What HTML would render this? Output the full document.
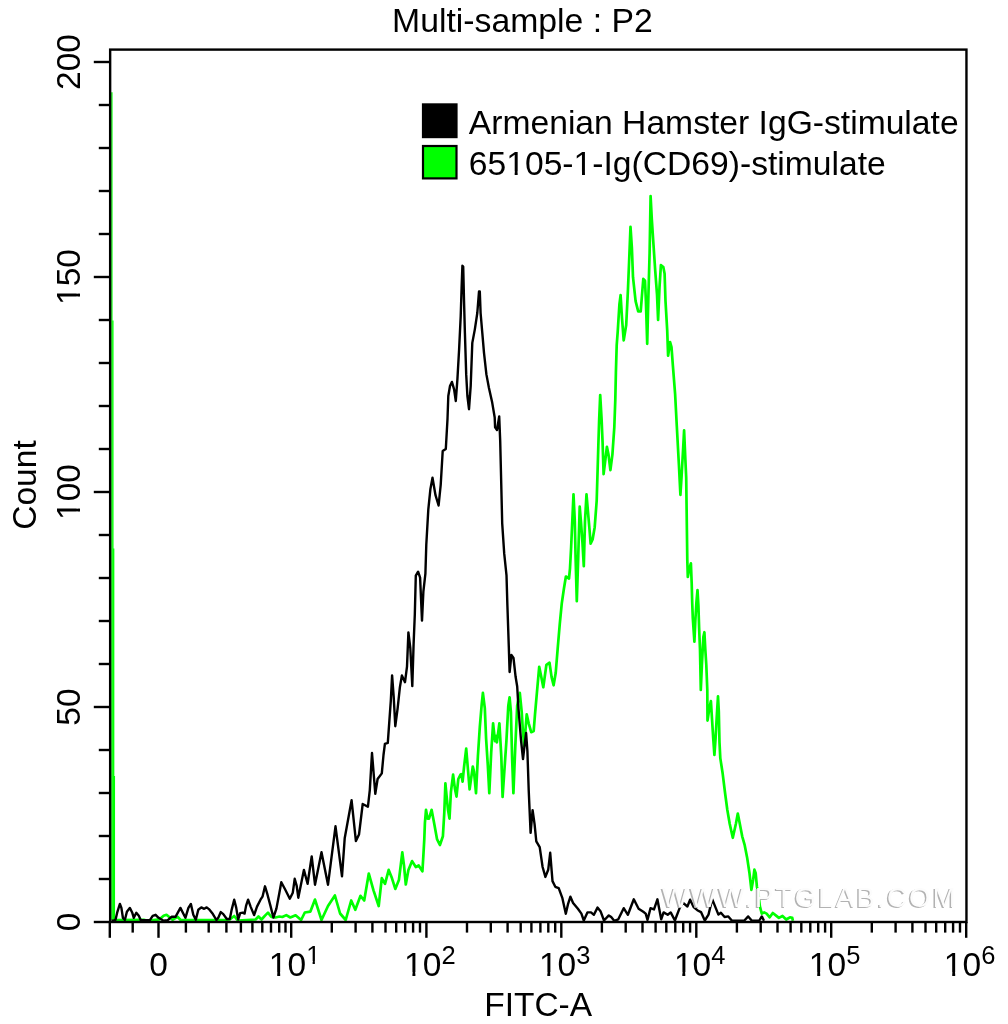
<!DOCTYPE html>
<html><head><meta charset="utf-8"><title>Multi-sample : P2</title>
<style>html,body{margin:0;padding:0;background:#fff;width:1008px;height:1024px;overflow:hidden}svg{display:block}</style>
</head><body>
<svg width="1008" height="1024" viewBox="0 0 1008 1024"><rect width="1008" height="1024" fill="#fff"/><g stroke="#00ff00" stroke-width="1.3" fill="none"><line x1="111.9" y1="92.3" x2="111.9" y2="920"/><line x1="112.9" y1="320.5" x2="112.9" y2="920"/><line x1="113.7" y1="548.5" x2="113.7" y2="920"/><line x1="114.4" y1="776" x2="114.4" y2="920"/></g><polyline points="114.0,920.0 143.7,919.8 147.7,920.8 159.6,919.3 163.6,915.8 166.5,914.8 169.5,917.3 172.5,919.8 177.5,916.8 180.4,919.8 224.8,920.0 229.8,919.5 234.2,916.0 237.7,920.5 255.6,919.5 258.5,916.5 261.5,919.5 265.0,915.6 268.0,912.6 271.4,917.0 275.4,917.5 279.4,916.5 282.3,917.0 286.3,915.1 290.3,917.5 295.6,915.3 301.1,920.0 304.8,912.5 310.4,911.6 315.0,899.6 321.5,920.0 328.0,906.0 334.9,895.5 340.1,913.5 345.7,920.0 351.2,900.5 355.3,909.8 360.5,895.8 364.2,900.5 368.8,873.6 373.5,890.3 378.7,906.0 381.8,878.2 385.0,883.8 388.7,869.9 391.6,877.2 395.3,888.9 398.9,880.1 402.3,852.3 404.0,865.5 405.8,884.5 408.4,869.9 412.1,861.1 415.8,867.0 418.7,865.5 422.4,871.4 423.4,855.2 424.3,839.1 424.9,823.0 426.0,809.8 427.5,818.6 429.0,818.6 431.6,809.8 434.1,823.0 437.0,839.1 439.9,845.0 442.9,836.2 444.3,812.7 445.4,783.4 446.5,795.2 448.0,809.8 449.5,818.6 450.9,792.2 453.1,774.7 455.0,789.3 456.5,796.6 458.3,779.0 460.5,774.7 461.3,774.1 462.6,781.7 464.1,766.5 466.2,748.7 467.7,766.5 469.6,789.4 472.8,766.5 474.0,771.6 476.0,793.2 477.9,756.3 479.8,727.1 481.7,704.3 482.9,692.9 484.8,708.1 486.1,738.6 487.8,765.2 489.3,793.2 491.2,752.5 493.1,723.3 495.0,741.1 496.3,736.0 496.9,742.4 499.4,723.3 501.3,756.3 502.6,797.0 504.5,769.0 506.4,741.1 508.3,705.6 509.6,697.3 510.9,711.9 512.1,757.6 513.4,793.2 515.3,746.2 517.2,705.6 519.8,692.9 521.7,711.9 522.9,731.0 524.2,746.2 526.7,714.4 528.7,723.3 531.2,732.2 533.7,731.0 535.0,714.4 537.2,689.4 539.2,666.8 541.3,677.1 543.3,687.3 546.4,664.8 549.5,662.7 551.6,677.1 553.6,685.3 555.7,673.0 557.7,648.3 559.8,623.7 561.8,603.2 563.9,588.8 565.9,576.5 569.0,578.5 570.0,568.3 571.1,547.7 572.1,525.2 573.5,494.4 574.8,521.1 575.6,558.0 576.8,601.1 578.2,558.0 579.7,506.7 580.9,521.1 582.4,541.6 583.8,566.2 585.0,521.1 586.5,494.4 587.9,510.8 589.5,529.3 590.6,543.6 592.6,539.5 594.7,527.2 596.7,500.5 598.3,446.8 599.1,421.4 600.2,395.0 601.6,419.4 602.6,442.9 603.6,474.2 605.5,458.5 606.9,446.8 608.5,454.6 610.4,470.2 612.4,454.6 614.3,427.3 615.3,399.9 615.9,372.5 616.7,345.2 617.7,331.8 619.4,304.5 620.6,295.1 622.0,318.2 623.7,340.4 626.2,325.0 627.9,290.9 629.1,261.8 630.5,226.8 631.9,248.2 633.0,277.2 635.6,301.1 638.2,311.3 640.7,311.3 643.3,278.9 645.0,280.6 645.9,301.1 647.2,343.8 648.4,296.0 649.6,253.3 650.6,196.1 651.8,219.1 653.5,244.8 655.2,270.4 657.0,294.3 658.1,319.9 659.5,287.4 660.9,265.2 663.3,267.0 664.6,273.8 665.5,301.1 667.2,330.1 668.1,355.7 670.1,342.1 671.5,347.2 672.9,365.8 675.1,393.8 676.8,426.0 678.9,464.7 680.4,494.8 681.5,477.6 683.2,447.5 684.1,430.3 685.4,460.4 686.2,477.6 686.9,530.0 687.3,560.0 687.8,577.0 689.1,569.7 690.9,563.4 691.7,583.8 692.2,602.5 692.8,618.1 694.4,641.6 695.3,621.3 696.4,602.5 697.5,590.0 698.4,605.6 699.1,627.5 700.0,649.4 700.8,690.0 701.9,665.0 702.7,649.4 703.4,636.9 704.4,632.2 705.3,649.4 706.3,665.0 707.3,690.0 707.5,720.6 709.4,708.1 710.9,701.1 712.2,722.2 713.3,739.4 714.4,755.0 715.6,737.8 716.9,714.4 718.0,696.4 718.8,711.3 719.5,742.5 720.3,758.1 722.7,773.8 725.0,792.5 727.3,809.7 729.7,823.8 732.8,837.8 735.9,823.8 737.8,813.6 739.8,823.8 742.2,836.3 744.7,845.2 747.1,857.4 749.5,873.3 751.4,889.8 753.2,879.4 754.4,869.6 755.7,873.3 756.9,886.7 758.1,891.6 759.9,906.3 761.8,913.6 764.2,912.4 766.6,913.6 769.7,917.3 772.8,913.0 775.8,915.4 778.9,917.9 782.5,916.0 786.2,919.5 789.9,917.3 792.3,917.9 792.9,920.8" fill="none" stroke="#00ff00" stroke-width="2.7" stroke-linejoin="round"/><polyline points="111.5,920.8 113.0,920.8 115.5,919.8 117.4,911.8 119.9,903.9 121.4,907.9 122.9,917.8 124.9,919.8 126.9,911.8 129.8,907.9 132.3,912.8 133.8,917.8 136.3,912.8 138.8,915.8 140.8,920.3 149.7,920.3 152.7,915.8 155.6,914.8 158.6,917.8 163.6,920.8 167.5,920.3 171.5,916.8 175.5,916.8 180.4,907.9 185.4,917.8 188.4,907.9 190.9,903.9 193.3,914.8 195.8,919.8 198.3,909.8 201.3,907.4 204.2,908.8 206.7,907.4 208.9,909.1 212.9,914.1 216.4,920.0 218.4,917.5 220.8,912.1 223.3,914.1 226.8,919.0 229.8,919.0 231.7,909.6 234.2,899.7 236.2,907.6 238.2,919.5 240.2,913.1 242.7,912.6 244.6,913.6 246.1,905.6 248.1,899.7 250.6,906.6 254.1,915.1 257.0,906.6 260.5,899.7 262.5,896.7 265.0,886.3 267.5,894.7 270.4,905.6 273.4,917.5 276.4,908.6 279.4,892.7 281.3,882.3 285.3,889.8 289.8,898.7 292.8,892.7 294.7,878.8 296.7,885.8 298.3,897.7 303.9,869.9 307.6,883.8 311.7,856.5 315.0,884.7 321.5,852.2 328.0,884.7 335.5,826.3 342.0,876.4 344.7,838.3 351.6,800.3 355.9,841.1 359.0,834.6 362.7,804.0 367.9,806.8 369.8,790.1 372.0,753.0 375.3,793.8 377.6,779.0 381.8,773.4 383.5,755.0 384.9,743.8 387.8,742.8 389.4,720.3 390.8,700.8 392.1,675.4 393.7,696.9 395.3,726.2 397.6,708.6 399.9,687.1 401.9,675.4 405.0,682.2 407.0,666.6 408.4,632.4 410.3,648.0 412.3,686.1 413.6,644.1 414.8,614.8 415.8,575.6 418.1,571.7 420.1,577.6 422.0,620.6 423.4,591.3 425.4,573.7 426.3,544.5 428.3,509.6 430.4,489.1 432.5,477.8 435.5,495.2 438.6,505.5 440.7,485.0 442.7,451.1 445.8,449.0 447.5,419.0 448.3,396.0 450.0,386.0 451.9,381.9 454.1,389.3 455.8,401.0 457.4,379.4 459.1,349.5 460.7,316.3 461.6,288.1 462.4,265.8 463.2,266.6 464.0,299.8 464.9,332.9 466.2,374.4 467.4,396.0 469.0,409.2 470.7,386.0 472.3,342.9 474.8,329.6 477.3,313.0 479.0,291.5 479.8,291.5 480.6,313.0 482.3,332.9 484.0,352.8 486.4,374.4 488.9,387.7 492.2,402.6 494.7,417.5 495.1,427.4 497.0,430.1 499.2,416.4 500.2,441.1 501.2,482.2 502.2,523.3 504.2,553.4 506.5,575.3 507.4,605.5 508.8,646.6 509.6,672.0 511.4,655.0 513.5,658.0 515.6,676.8 517.2,686.5 518.5,709.0 521.0,740.0 523.0,759.0 524.5,746.0 526.1,733.0 527.4,751.0 528.7,790.0 530.6,832.9 532.6,810.2 534.6,824.4 536.3,841.4 539.7,847.1 542.6,867.0 545.4,876.9 548.2,869.8 550.2,852.8 552.5,881.1 555.3,886.8 558.7,888.2 562.4,898.2 565.8,913.8 568.1,903.8 570.4,896.7 573.1,902.9 577.9,908.8 581.4,913.6 583.8,920.5 587.4,912.4 591.0,912.4 593.9,914.8 597.5,907.6 600.5,911.2 604.0,920.5 608.8,915.4 611.2,917.1 614.2,920.8 618.3,919.3 623.7,908.2 627.9,914.8 633.8,899.3 638.6,908.8 643.3,911.8 645.7,913.6 647.5,919.9 650.5,908.2 654.0,909.4 657.4,899.3 661.2,919.3 663.6,912.4 667.7,914.8 670.7,912.4 674.9,920.5 680.0,907.1 683.1,902.8 687.4,906.5 690.1,899.7 693.6,907.1 697.3,910.2 701.0,912.1 704.8,920.5 708.5,914.6 712.2,899.1 715.9,908.4 718.4,914.6 720.9,912.7 724.6,917.0 728.3,916.4 732.0,920.8 739.5,920.8 744.4,920.5 748.2,916.4 751.9,920.8 759.3,920.5 761.8,916.4 764.0,920.8" fill="none" stroke="#000" stroke-width="2.4" stroke-linejoin="round"/><text x="660.6" y="908.0" font-family="Liberation Sans, Arial, sans-serif" font-size="27.5" letter-spacing="2.25" fill="#b2b2b2">WWW.PTGLAB.COM</text><text x="662.0" y="907.3" font-family="Liberation Sans, Arial, sans-serif" font-size="27.5" letter-spacing="2.25" fill="#fcfcfc">WWW.PTGLAB.COM</text><rect x="110.15" y="49.6" width="856.3" height="872.4" fill="none" stroke="#000" stroke-width="2.4"/><g stroke="#000" stroke-width="2.4"><line x1="93.8" y1="922.0" x2="110.15" y2="922.0"/><line x1="98.8" y1="879.0" x2="110.15" y2="879.0"/><line x1="98.8" y1="836.0" x2="110.15" y2="836.0"/><line x1="98.8" y1="793.0" x2="110.15" y2="793.0"/><line x1="98.8" y1="750.0" x2="110.15" y2="750.0"/><line x1="93.8" y1="707.0" x2="110.15" y2="707.0"/><line x1="98.8" y1="664.0" x2="110.15" y2="664.0"/><line x1="98.8" y1="621.0" x2="110.15" y2="621.0"/><line x1="98.8" y1="578.0" x2="110.15" y2="578.0"/><line x1="98.8" y1="535.0" x2="110.15" y2="535.0"/><line x1="93.8" y1="492.0" x2="110.15" y2="492.0"/><line x1="98.8" y1="449.0" x2="110.15" y2="449.0"/><line x1="98.8" y1="406.0" x2="110.15" y2="406.0"/><line x1="98.8" y1="363.0" x2="110.15" y2="363.0"/><line x1="98.8" y1="320.0" x2="110.15" y2="320.0"/><line x1="93.8" y1="277.0" x2="110.15" y2="277.0"/><line x1="98.8" y1="234.0" x2="110.15" y2="234.0"/><line x1="98.8" y1="191.0" x2="110.15" y2="191.0"/><line x1="98.8" y1="148.0" x2="110.15" y2="148.0"/><line x1="98.8" y1="105.0" x2="110.15" y2="105.0"/><line x1="93.8" y1="62.0" x2="110.15" y2="62.0"/><line x1="109.8" y1="921.95" x2="109.8" y2="937.8"/><line x1="158.5" y1="921.95" x2="158.5" y2="937.8"/><line x1="291.2" y1="921.95" x2="291.2" y2="937.8"/><line x1="426.4" y1="921.95" x2="426.4" y2="937.8"/><line x1="561.3" y1="921.95" x2="561.3" y2="937.8"/><line x1="696.3" y1="921.95" x2="696.3" y2="937.8"/><line x1="831.2" y1="921.95" x2="831.2" y2="937.8"/><line x1="966.2" y1="921.95" x2="966.2" y2="937.8"/><line x1="132.7" y1="921.95" x2="132.7" y2="932.6"/><line x1="185.9" y1="921.95" x2="185.9" y2="932.6"/><line x1="208.7" y1="921.95" x2="208.7" y2="932.6"/><line x1="226.4" y1="921.95" x2="226.4" y2="932.6"/><line x1="240.9" y1="921.95" x2="240.9" y2="932.6"/><line x1="252.4" y1="921.95" x2="252.4" y2="932.6"/><line x1="262.3" y1="921.95" x2="262.3" y2="932.6"/><line x1="271.0" y1="921.95" x2="271.0" y2="932.6"/><line x1="279.2" y1="921.95" x2="279.2" y2="932.6"/><line x1="285.5" y1="921.95" x2="285.5" y2="932.6"/><line x1="331.8" y1="921.95" x2="331.8" y2="932.6"/><line x1="355.6" y1="921.95" x2="355.6" y2="932.6"/><line x1="372.4" y1="921.95" x2="372.4" y2="932.6"/><line x1="385.5" y1="921.95" x2="385.5" y2="932.6"/><line x1="396.2" y1="921.95" x2="396.2" y2="932.6"/><line x1="405.2" y1="921.95" x2="405.2" y2="932.6"/><line x1="413.1" y1="921.95" x2="413.1" y2="932.6"/><line x1="420.0" y1="921.95" x2="420.0" y2="932.6"/><line x1="467.0" y1="921.95" x2="467.0" y2="932.6"/><line x1="490.8" y1="921.95" x2="490.8" y2="932.6"/><line x1="507.6" y1="921.95" x2="507.6" y2="932.6"/><line x1="520.7" y1="921.95" x2="520.7" y2="932.6"/><line x1="531.4" y1="921.95" x2="531.4" y2="932.6"/><line x1="540.4" y1="921.95" x2="540.4" y2="932.6"/><line x1="548.3" y1="921.95" x2="548.3" y2="932.6"/><line x1="555.2" y1="921.95" x2="555.2" y2="932.6"/><line x1="601.9" y1="921.95" x2="601.9" y2="932.6"/><line x1="625.7" y1="921.95" x2="625.7" y2="932.6"/><line x1="642.5" y1="921.95" x2="642.5" y2="932.6"/><line x1="655.6" y1="921.95" x2="655.6" y2="932.6"/><line x1="666.3" y1="921.95" x2="666.3" y2="932.6"/><line x1="675.3" y1="921.95" x2="675.3" y2="932.6"/><line x1="683.2" y1="921.95" x2="683.2" y2="932.6"/><line x1="690.1" y1="921.95" x2="690.1" y2="932.6"/><line x1="736.9" y1="921.95" x2="736.9" y2="932.6"/><line x1="760.7" y1="921.95" x2="760.7" y2="932.6"/><line x1="777.5" y1="921.95" x2="777.5" y2="932.6"/><line x1="790.6" y1="921.95" x2="790.6" y2="932.6"/><line x1="801.3" y1="921.95" x2="801.3" y2="932.6"/><line x1="810.3" y1="921.95" x2="810.3" y2="932.6"/><line x1="818.2" y1="921.95" x2="818.2" y2="932.6"/><line x1="825.1" y1="921.95" x2="825.1" y2="932.6"/><line x1="871.8" y1="921.95" x2="871.8" y2="932.6"/><line x1="895.6" y1="921.95" x2="895.6" y2="932.6"/><line x1="912.4" y1="921.95" x2="912.4" y2="932.6"/><line x1="925.5" y1="921.95" x2="925.5" y2="932.6"/><line x1="936.2" y1="921.95" x2="936.2" y2="932.6"/><line x1="945.2" y1="921.95" x2="945.2" y2="932.6"/><line x1="953.1" y1="921.95" x2="953.1" y2="932.6"/><line x1="960.0" y1="921.95" x2="960.0" y2="932.6"/></g><rect x="421.9" y="103.3" width="35.7" height="34.9" fill="#000"/><rect x="423.0" y="146.0" width="33.5" height="32.4" fill="#00ff00" stroke="#000" stroke-width="2.2"/><g font-family="Liberation Sans, Arial, sans-serif" fill="#000"><text id="t0" font-size="33.75" x="392.1" y="32.2">Multi-sample : P2</text><text id="t1" font-size="33.65" x="468.8" y="133.7">Armenian Hamster IgG-stimulate</text><text id="t2" font-size="33.65" x="468.8" y="174.8">65105-1-Ig(CD69)-stimulate</text><g fill="#fff"><rect x="507.19" y="171.43" width="7.48" height="4.27"/><rect x="517.64" y="171.43" width="6.97" height="4.27"/><rect x="574.52" y="171.43" width="7.48" height="4.27"/><rect x="584.97" y="171.43" width="6.97" height="4.27"/></g><text id="t3" font-size="33.5" x="0" y="0" transform="translate(80.0,922.0) rotate(-90)" text-anchor="middle">0</text><text id="t4" font-size="33.5" x="0" y="0" transform="translate(80.0,707.0) rotate(-90)" text-anchor="middle">50</text><text id="t5" font-size="33.5" x="0" y="0" transform="translate(80.0,492.0) rotate(-90)" text-anchor="middle">100</text><g fill="#fff" transform="translate(80.0,492.0) rotate(-90)"><rect x="-26.97" y="-3.35" width="7.44" height="4.25"/><rect x="-16.57" y="-3.35" width="6.94" height="4.25"/></g><text id="t6" font-size="33.5" x="0" y="0" transform="translate(80.0,277.0) rotate(-90)" text-anchor="middle">150</text><g fill="#fff" transform="translate(80.0,277.0) rotate(-90)"><rect x="-26.97" y="-3.35" width="7.44" height="4.25"/><rect x="-16.57" y="-3.35" width="6.94" height="4.25"/></g><text id="t7" font-size="33.5" x="0" y="0" transform="translate(80.0,62.0) rotate(-90)" text-anchor="middle">200</text><text id="t8" font-size="33.5" x="0" y="0" transform="translate(36.3,485.0) rotate(-90)" text-anchor="middle">Count</text><text id="t9" font-size="33.5" x="158.5" y="975.5" text-anchor="middle">0</text><text id="t10" font-size="33.5" x="268.8" y="975.5">10</text><g fill="#fff"><rect x="269.78" y="972.15" width="7.44" height="4.25"/><rect x="280.18" y="972.15" width="6.94" height="4.25"/></g><text id="t11" font-size="25.5" x="306.2" y="963.6">1</text><g fill="#fff"><rect x="306.95" y="961.05" width="5.67" height="3.45"/><rect x="314.87" y="961.05" width="5.28" height="3.45"/></g><text id="t12" font-size="33.5" x="404.0" y="975.5">10</text><g fill="#fff"><rect x="404.98" y="972.15" width="7.44" height="4.25"/><rect x="415.38" y="972.15" width="6.94" height="4.25"/></g><text id="t13" font-size="25.5" x="441.4" y="963.6">2</text><text id="t14" font-size="33.5" x="538.9" y="975.5">10</text><g fill="#fff"><rect x="539.88" y="972.15" width="7.44" height="4.25"/><rect x="550.28" y="972.15" width="6.94" height="4.25"/></g><text id="t15" font-size="25.5" x="576.3" y="963.6">3</text><text id="t16" font-size="33.5" x="673.9" y="975.5">10</text><g fill="#fff"><rect x="674.88" y="972.15" width="7.44" height="4.25"/><rect x="685.28" y="972.15" width="6.94" height="4.25"/></g><text id="t17" font-size="25.5" x="711.3" y="963.6">4</text><text id="t18" font-size="33.5" x="808.8" y="975.5">10</text><g fill="#fff"><rect x="809.78" y="972.15" width="7.44" height="4.25"/><rect x="820.18" y="972.15" width="6.94" height="4.25"/></g><text id="t19" font-size="25.5" x="846.2" y="963.6">5</text><text id="t20" font-size="33.5" x="943.8" y="975.5">10</text><g fill="#fff"><rect x="944.78" y="972.15" width="7.44" height="4.25"/><rect x="955.18" y="972.15" width="6.94" height="4.25"/></g><text id="t21" font-size="25.5" x="981.2" y="963.6">6</text><text id="t22" font-size="33.5" x="484.2" y="1016.2">FITC-A</text></g></svg>
</body></html>
